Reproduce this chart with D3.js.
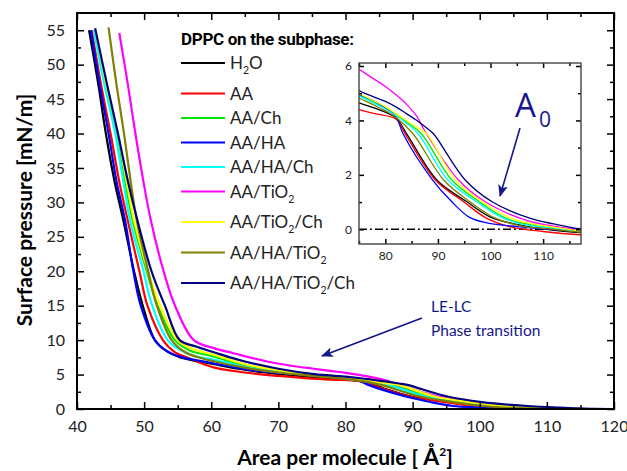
<!DOCTYPE html>
<html lang="en">
<head>
<meta charset="utf-8">
<title>DPPC isotherms</title>
<script src="https://cdn.jsdelivr.net/npm/d3@7"></script>
<style>
  body { margin: 0; background: #fff; }
  svg { display: block; font-family: 'Lato', sans-serif; }
</style>
</head>
<body>
<svg id="chart" width="627" height="471"></svg>
<script>

/* Data: [area per molecule, surface pressure] */
/* ========================================== */

var seriesLabels = ['H_2O', 'AA', 'AA/Ch', 'AA/HA', 'AA/HA/Ch', 'AA/TiO_2', 'AA/TiO_2/Ch', 'AA/HA/TiO_2', 'AA/HA/TiO_2/Ch'];

var h2o = [[41.8,55],[43.2,47],[44.3,40],[45.6,33],[46.9,27.4],[48.5,20],[49.8,15],[51.6,10],[53.2,8.5],[55.4,7.5],[60.5,6.5],[65,5.7],[70,5.1],[75,4.65],[78,4.45],[82,4.1],[84.1,3.5],[89.8,1.81],[95.5,1.01],[100,0.45],[105,0.18],[110,0.02],[117,-0.12],[120,-0.12]];
var aa = [[42.2,55],[43.6,47],[45,40],[46.3,33],[47.55,27.4],[49.3,20],[50.5,15],[52.8,10],[54.5,8.3],[56.6,7.4],[60.5,6],[65,5.3],[70,4.8],[75,4.4],[78,4.25],[82,4.05],[83.8,3.5],[89.5,1.81],[94.9,1.01],[99.3,0.4],[104,0.08],[110,-0.08],[117,-0.2],[120,-0.22]];
var aaCh = [[42.6,55],[44.3,47],[46,40],[47.2,33],[48.3,27.4],[50.4,20],[52,15],[54.6,10],[56.8,8.5],[60.5,7.6],[65,6.3],[70,5.5],[75,4.95],[78,4.65],[80,4.45],[82,4.2],[84,3.95],[86.9,3.5],[92.65,1.81],[97.9,1.01],[103,0.4],[108,0.15],[112,0.05],[117,-0.08],[120,-0.08]];
var aaHa = [[42.05,55],[43.4,47],[44.7,40],[45.9,33],[47.15,27.4],[48.4,20],[49.5,15],[51.6,10],[53.2,8.5],[55.3,7.6],[60.5,6.6],[65,5.8],[70,5.25],[75,4.95],[78,4.7],[80,4.45],[82,4.15],[83.4,3.5],[89,1.81],[92.65,1.01],[96,0.44],[99.3,0.24],[105,0.1],[110,0.02],[117,-0.05],[120,-0.05]];
var aaHaCh = [[42.5,55],[44.1,47],[45.7,40],[46.9,33],[47.9,27.4],[49.9,20],[51.2,15],[53.5,10],[55.3,8.6],[57.5,7.7],[60.5,7.15],[65,6.1],[70,5.35],[75,4.9],[78,4.62],[80,4.42],[82,4.18],[84,3.9],[86.3,3.5],[91.9,1.81],[97.4,1.01],[102.5,0.4],[107,0.15],[112,0.04],[117,-0.08],[120,-0.08]];
var aaTiO2 = [[46.3,54.6],[47.6,47],[48.7,40],[49.9,33],[51,27.4],[52.9,20],[54.6,15],[57.4,10],[60.5,8.8],[63.3,8.1],[68.3,6.9],[73.2,6.1],[75,5.88],[78,5.5],[80,5.25],[82,4.95],[84,4.6],[86,4.15],[87.2,3.72],[88,3.45],[93.9,1.81],[99,1.01],[105.7,0.4],[110,0.18],[117,0],[120,0]];
var aaTiO2Ch = [[42.8,55],[44.4,47],[46.1,40],[47.4,33],[48.5,27.4],[50.6,20],[52.4,15],[55,10],[57.3,8.7],[60.5,7.85],[65,6.5],[70,5.6],[75,5],[78,4.7],[80,4.5],[82,4.25],[84,4],[86,3.75],[87.9,3.5],[93.3,1.81],[98.4,1.01],[104,0.4],[108,0.2],[112,0.08],[117,-0.05],[120,-0.05]];
var aaHaTiO2 = [[44.7,55.4],[45.9,47],[47,40],[48,33],[48.9,27.4],[50.6,20],[51.9,15],[54.1,10],[56.2,8.2],[58.8,7.3],[60.5,6.9],[65,6],[70,5.3],[75,4.82],[78,4.55],[80,4.35],[82,4.12],[85.3,3.5],[91.1,1.81],[96.1,1.01],[101,0.4],[106,0.12],[112,0],[117,-0.1],[120,-0.1]];
var aaHaTiO2Ch = [[42.7,55.3],[44.5,47],[46.1,40],[47.6,33],[49,27.4],[51.1,20],[53.1,15],[55.3,10],[57.6,9.1],[60.5,8.2],[62.8,7.5],[65,6.9],[70,5.85],[75,5.1],[78,4.85],[80,4.7],[82,4.5],[84,4.25],[86,4],[88,3.7],[89.2,3.5],[95.2,1.81],[100.3,1.01],[107.6,0.4],[112,0.2],[117,0.02],[120,0]];

var seriesData = [h2o, aa, aaCh, aaHa, aaHaCh, aaTiO2, aaTiO2Ch, aaHaTiO2, aaHaTiO2Ch];
var seriesColors = ['#000000', '#ff0000', '#00e600', '#0000ff', '#00ffff', '#ff00ff', '#ffff00', '#808000', '#000080'];

var xTicks = [40, 50, 60, 70, 80, 90, 100, 110, 120];
var yTicks = [0, 5, 10, 15, 20, 25, 30, 35, 40, 45, 50, 55];
var insetXTicks = [80, 90, 100, 110];
var insetYTicks = [0, 2, 4, 6];


/* Setup */
/* ===== */

var svg = d3.select('#chart');
var annotColor = '#16168c';

var x = d3.scaleLinear().domain([40, 120]).range([77, 614]);
var y = d3.scaleLinear().domain([0, 57.5]).range([409, 13]);

var ix = d3.scaleLinear().domain([75, 117.2]).range([359, 581]);
var iy = d3.scaleLinear().domain([-0.54, 6.11]).range([244, 63]);

var defs = svg.append('defs');
defs.append('clipPath').attr('id', 'clip-main')
  .append('rect').attr('x', 77).attr('y', 13).attr('width', 537).attr('height', 396);
defs.append('clipPath').attr('id', 'clip-inset')
  .append('rect').attr('x', 359).attr('y', 63).attr('width', 222).attr('height', 181);

defs.append('marker')
    .attr('id', 'arrow')
    .attr('viewBox', '0 0 12 10')
    .attr('refX', 11).attr('refY', 5)
    .attr('markerWidth', 12).attr('markerHeight', 10)
    .attr('markerUnits', 'userSpaceOnUse')
    .attr('orient', 'auto')
  .append('path')
    .attr('d', 'M0,0 L12,5 L0,10 L3,5 Z')
    .attr('fill', annotColor);


/* Axes helper */
/* ----------- */

function drawAxes(g, xs, ys, xMajor, xMinor, yMajor, yMinor, major, minor, pad, fontSize) {
  var x0 = xs.range()[0], x1 = xs.range()[1];
  var y0 = ys.range()[0], y1 = ys.range()[1];

  function tickAxis(axis, transform, values, size, labels) {
    var a = g.append('g').attr('transform', transform)
      .call(axis.tickValues(values).tickSize(-size).tickPadding(pad)
        .tickFormat(labels ? d3.format('d') : ''));
    a.select('.domain').remove();
    a.selectAll('line').attr('stroke', '#000').attr('stroke-width', 1.5);
    a.selectAll('text').attr('font-size', fontSize).attr('fill', '#222').attr('font-family', 'Lato, sans-serif');
  }

  tickAxis(d3.axisBottom(xs), 'translate(0,' + y0 + ')', xMajor, major, true);
  tickAxis(d3.axisBottom(xs), 'translate(0,' + y0 + ')', xMinor, minor, false);
  tickAxis(d3.axisTop(xs), 'translate(0,' + y1 + ')', xMajor, major, false);
  tickAxis(d3.axisTop(xs), 'translate(0,' + y1 + ')', xMinor, minor, false);
  tickAxis(d3.axisLeft(ys), 'translate(' + x0 + ',0)', yMajor, major, true);
  tickAxis(d3.axisLeft(ys), 'translate(' + x0 + ',0)', yMinor, minor, false);
  tickAxis(d3.axisRight(ys), 'translate(' + x1 + ',0)', yMajor, major, false);
  tickAxis(d3.axisRight(ys), 'translate(' + x1 + ',0)', yMinor, minor, false);
}


/* Main plot */
/* ========= */

var main = svg.append('g');

var line = d3.line()
    .x(function(d) { return x(d[0]); })
    .y(function(d) { return y(d[1]); })
    .curve(d3.curveCatmullRom.alpha(0.5));

main.append('g').attr('clip-path', 'url(#clip-main)')
  .selectAll('path').data(seriesData).enter().append('path')
    .attr('d', line)
    .attr('fill', 'none')
    .attr('stroke', function(d, i) { return seriesColors[i]; })
    .attr('stroke-width', 2.2)
    .attr('stroke-linejoin', 'round');

drawAxes(main, x, y,
  xTicks, d3.range(45, 120, 10),
  yTicks, d3.range(2.5, 57.5, 5),
  7, 4, 12, 16);

main.append('rect')
    .attr('x', 77).attr('y', 13).attr('width', 537).attr('height', 396)
    .attr('fill', 'none').attr('stroke', '#000').attr('stroke-width', 2);

// Axis titles
svg.append('text')
    .attr('x', 345).attr('y', 465)
    .attr('text-anchor', 'middle')
    .attr('font-size', 21).attr('font-weight', 'bold')
    .html('Area per molecule [ <tspan font-size="23">Å</tspan><tspan font-size="12" dy="-9">2</tspan><tspan dy="9">]</tspan>');

svg.append('text')
    .attr('transform', 'translate(32,210) rotate(-90)')
    .attr('text-anchor', 'middle')
    .attr('font-size', 21).attr('font-weight', 'bold')
    .text('Surface pressure [mN/m]');


/* Legend */
/* ====== */

function addLabel(sel, label, size) {
  var parts = label.split('_');
  sel.append('tspan').text(parts[0]);
  for (var i = 1; i < parts.length; i++) {
    sel.append('tspan').attr('font-size', size * 0.62).attr('dy', 5).text(parts[i].charAt(0));
    sel.append('tspan').attr('dy', -5).text(parts[i].slice(1));
  }
}

var legend = svg.append('g');

legend.append('text')
    .attr('x', 181).attr('y', 45)
    .attr('font-size', 17).attr('font-weight', 'bold')
    .attr('font-family', "'Liberation Sans Narrow', 'Roboto', sans-serif")
    .attr('letter-spacing', -0.3)
    .text('DPPC on the subphase:');

var rowY = 63;
seriesLabels.forEach(function(label, i) {
  if (i > 0) rowY += 24.5 + (seriesLabels[i - 1].indexOf('_') >= 0 ? 6 : 0);
  legend.append('line')
      .attr('x1', 181).attr('x2', 225).attr('y1', rowY).attr('y2', rowY)
      .attr('stroke', seriesColors[i]).attr('stroke-width', 2.2);
  var t = legend.append('text')
      .attr('x', 230).attr('y', rowY + 6)
      .attr('font-size', 17).attr('fill', '#222');
  addLabel(t, label, 17);
});


/* Inset */
/* ===== */

var inset = svg.append('g');

inset.append('rect')
    .attr('x', 359).attr('y', 63).attr('width', 222).attr('height', 181)
    .attr('fill', '#fff');

var insetLine = d3.line()
    .x(function(d) { return ix(d[0]); })
    .y(function(d) { return iy(d[1]); })
    .curve(d3.curveCatmullRom.alpha(0.5));

inset.append('line')
    .attr('x1', ix(75)).attr('x2', ix(117.2)).attr('y1', iy(0)).attr('y2', iy(0))
    .attr('stroke', '#000').attr('stroke-width', 1.6)
    .attr('stroke-dasharray', '8,3,2,3');

inset.append('g').attr('clip-path', 'url(#clip-inset)')
  .selectAll('path').data(seriesData).enter().append('path')
    .attr('d', insetLine)
    .attr('fill', 'none')
    .attr('stroke', function(d, i) { return seriesColors[i]; })
    .attr('stroke-width', 1.3);

drawAxes(inset, ix, iy,
  insetXTicks, d3.range(75, 117, 5).filter(function(v) { return v % 10; }),
  insetYTicks, [1, 3, 5],
  5, 3, 7, 12);

inset.append('rect')
    .attr('x', 359).attr('y', 63).attr('width', 222).attr('height', 181)
    .attr('fill', 'none').attr('stroke', '#444').attr('stroke-width', 1.4);


/* Annotations */
/* =========== */

svg.append('text')
    .attr('x', 515).attr('y', 117)
    .attr('fill', annotColor)
    .attr('font-family', "'Open Sans', sans-serif")
    .attr('font-size', 33)
    .text('A');
svg.append('text')
    .attr('x', 539).attr('y', 127)
    .attr('fill', annotColor)
    .attr('font-family', "'Open Sans', sans-serif")
    .attr('font-size', 21)
    .text('0');

svg.append('line')
    .attr('x1', 520).attr('y1', 128).attr('x2', 500).attr('y2', 196)
    .attr('stroke', annotColor).attr('stroke-width', 1.6)
    .attr('marker-end', 'url(#arrow)');

svg.append('text')
    .attr('x', 431).attr('y', 312)
    .attr('fill', annotColor).attr('font-size', 15.5)
    .text('LE-LC');
svg.append('text')
    .attr('x', 431).attr('y', 336)
    .attr('fill', annotColor).attr('font-size', 15.5)
    .text('Phase transition');

svg.append('line')
    .attr('x1', 422).attr('y1', 318).attr('x2', 322).attr('y2', 356)
    .attr('stroke', annotColor).attr('stroke-width', 1.8)
    .attr('marker-end', 'url(#arrow)');

</script>
</body>
</html>
